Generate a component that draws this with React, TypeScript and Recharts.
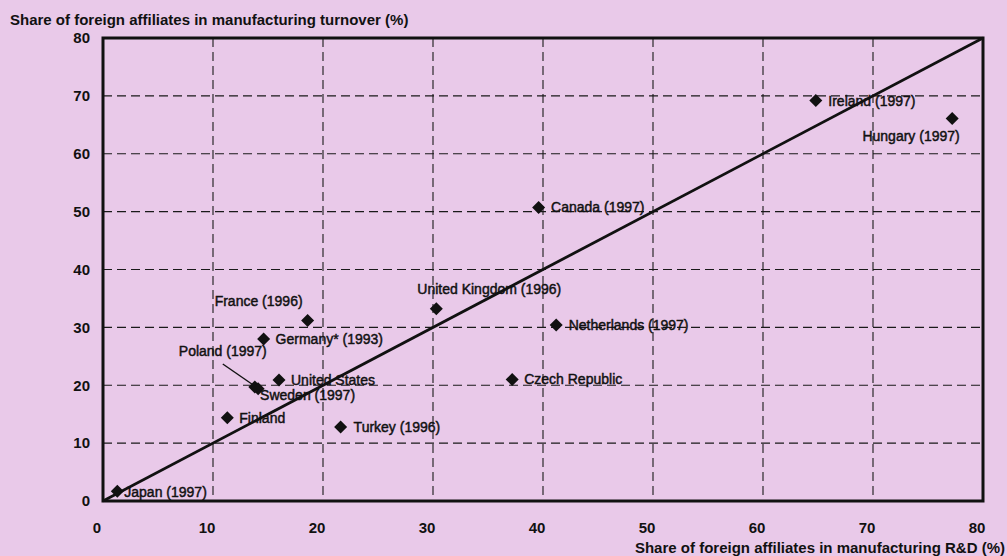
import React from 'react';
import {
  ScatterChart,
  Scatter,
  XAxis,
  YAxis,
  CartesianGrid,
  ReferenceLine,
  ReferenceArea,
} from 'recharts';

const countries = [
  'Japan (1997)',
  'Finland',
  'Turkey (1996)',
  'Poland (1997)',
  'Sweden (1997)',
  'United States',
  'Germany* (1993)',
  'France (1996)',
  'United Kingdom  (1996)',
  'Czech Republic',
  'Netherlands  (1997)',
  'Canada (1997)',
  'Ireland (1997)',
  'Hungary (1997)',
];
const rdShare = [1.3, 11.3, 21.6, 13.8, 14.1, 16.0, 14.6, 18.6, 30.3, 37.2, 41.2, 39.6, 64.8, 77.2];
const turnoverShare = [1.7, 14.4, 12.8, 19.7, 19.4, 20.9, 28.0, 31.2, 33.2, 21.0, 30.4, 50.7, 69.2, 66.1];
const axisTicks = [0, 10, 20, 30, 40, 50, 60, 70, 80];

const xTitle = 'Share of foreign affiliates in manufacturing R&D (%)';
const yTitle = 'Share of foreign affiliates in manufacturing turnover (%)';

// label placement (styling only)
const labelPos: Record<string, { dx: number; dy: number; anchor: 'start' | 'end' | 'middle' }> = {
  'Japan (1997)': { dx: 7, dy: 1, anchor: 'start' },
  Finland: { dx: 12, dy: 0, anchor: 'start' },
  'Turkey (1996)': { dx: 13, dy: 0, anchor: 'start' },
  'Poland (1997)': { dx: -32, dy: -36, anchor: 'middle' },
  'Sweden (1997)': { dx: 2, dy: 6, anchor: 'start' },
  'United States': { dx: 12, dy: 0, anchor: 'start' },
  'Germany* (1993)': { dx: 12, dy: 0, anchor: 'start' },
  'France (1996)': { dx: -5, dy: -19, anchor: 'end' },
  'United Kingdom  (1996)': { dx: -19, dy: -20, anchor: 'start' },
  'Czech Republic': { dx: 12, dy: 0, anchor: 'start' },
  'Netherlands  (1997)': { dx: 12.5, dy: 0, anchor: 'start' },
  'Canada (1997)': { dx: 12.5, dy: 0, anchor: 'start' },
  'Ireland (1997)': { dx: 12.5, dy: 1, anchor: 'start' },
  'Hungary (1997)': { dx: 7.5, dy: 18, anchor: 'end' },
};

const data = countries.map((name, i) => ({ name, x: rdShare[i], y: turnoverShare[i] }));

const FONT = 'Arial, "Liberation Sans", Helvetica, sans-serif';
const BG = '#E9C9E9';
const INK = '#111111';

const DiamondWithLabel = (props: any) => {
  const { cx, cy, payload } = props;
  if (cx == null || cy == null) return null;
  const r = 6.5;
  const pos = labelPos[payload.name] || { dx: 12, dy: 0, anchor: 'start' };
  return (
    <g>
      {payload.name === 'Poland (1997)' && (
        <line x1={cx - 32} y1={cy - 23} x2={cx - 3} y2={cy - 3} stroke={INK} strokeWidth={1.4} />
      )}
      <polygon
        points={`${cx},${cy - r} ${cx + r},${cy} ${cx},${cy + r} ${cx - r},${cy}`}
        fill={INK}
      />
      <text
        x={cx + pos.dx}
        y={cy + pos.dy}
        dy="0.35em"
        textAnchor={pos.anchor}
        fontFamily={FONT}
        fontSize={14}
        fill={INK}
        stroke={INK}
        strokeWidth={0.45}
      >
        {payload.name}
      </text>
    </g>
  );
};

const XTick = (props: any) => {
  const { x, y, payload } = props;
  return (
    <text x={x - 6} y={y} dy="0.71em" textAnchor="middle" fontFamily={FONT} fontSize={15} fontWeight="bold" fill={INK}>
      {payload.value}
    </text>
  );
};

const YTick = (props: any) => {
  const { x, y, payload } = props;
  return (
    <text x={x} y={y} dy="0.35em" textAnchor="end" fontFamily={FONT} fontSize={15} fontWeight="bold" fill={INK}>
      {payload.value}
    </text>
  );
};

export default function App() {
  return (
    <div style={{ position: 'absolute', left: 0, top: 0, width: 1007, height: 556, background: BG }}>
      <ScatterChart width={1007} height={556} margin={{ top: 38, right: 24, bottom: 25, left: 43 }}>
        <CartesianGrid stroke="#1a1a1a" strokeWidth={1.1} strokeDasharray="9 5" />
        <XAxis
          type="number"
          dataKey="x"
          domain={[0, 80]}
          ticks={axisTicks}
          allowDataOverflow
          axisLine={false}
          tickLine={false}
          tickSize={0}
          tickMargin={21}
          height={30}
          tick={<XTick />}
          label={{
            content: () => (
              <text x={1005} y={548} dy="0.35em" textAnchor="end" fontFamily={FONT} fontSize={15} fontWeight="bold" fill={INK}>
                {xTitle}
              </text>
            ),
          }}
        />
        <YAxis
          type="number"
          dataKey="y"
          domain={[0, 80]}
          ticks={axisTicks}
          allowDataOverflow
          axisLine={false}
          tickLine={false}
          tickSize={0}
          tickMargin={13}
          width={60}
          tick={<YTick />}
          label={{
            content: () => (
              <text x={10} y={20} dy="0.35em" textAnchor="start" fontFamily={FONT} fontSize={15} fontWeight="bold" fill={INK}>
                {yTitle}
              </text>
            ),
          }}
        />
        <ReferenceArea x1={0} x2={80} y1={0} y2={80} fill="none" stroke={INK} strokeWidth={3} fillOpacity={0} />
        <ReferenceLine
          segment={[
            { x: 0, y: 0 },
            { x: 80, y: 80 },
          ]}
          stroke={INK}
          strokeWidth={2.8}
        />
        <Scatter data={data} shape={<DiamondWithLabel />} isAnimationActive={false} />
      </ScatterChart>
    </div>
  );
}
